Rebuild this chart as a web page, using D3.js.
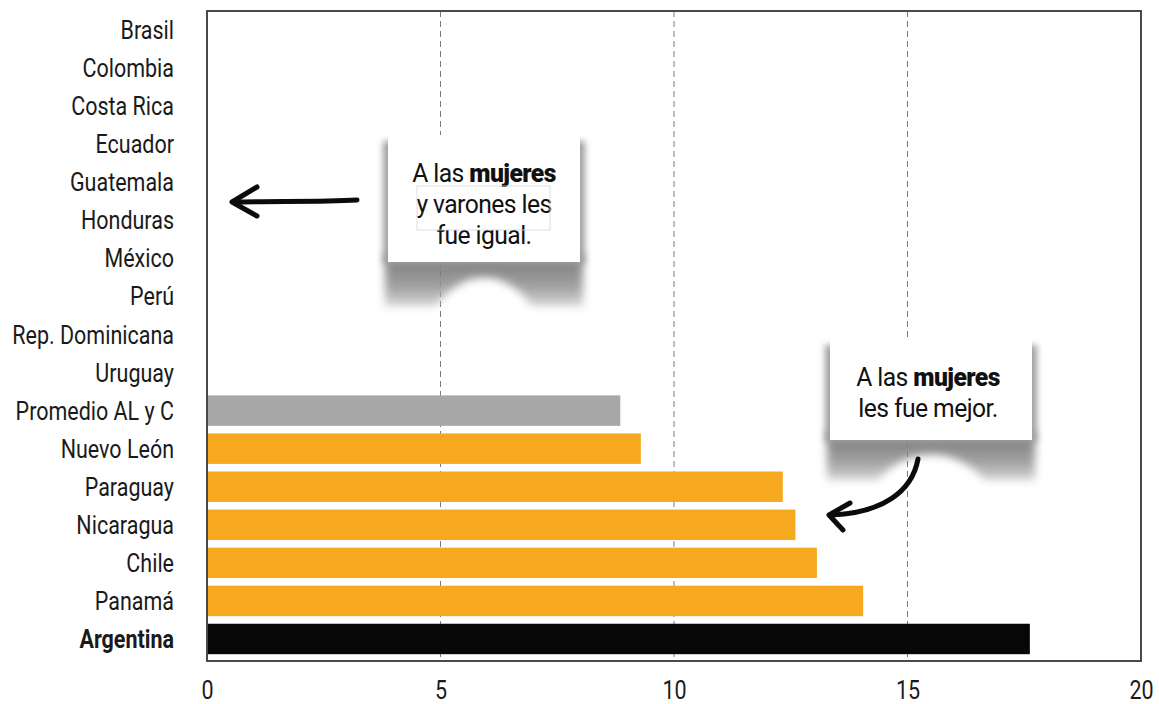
<!DOCTYPE html>
<html>
<head>
<meta charset="utf-8">
<script src="https://cdn.jsdelivr.net/npm/d3@7"></script>
<style>
  html, body { margin: 0; padding: 0; background: #fff; }
  svg { display: block; }
  text { font-family: Roboto, "Liberation Sans", "DejaVu Sans", sans-serif; }
</style>
</head>
<body>
<svg id="chart" width="1159" height="704"></svg>
<script>
// ---- data ----
const categories = ["Brasil", "Colombia", "Costa Rica", "Ecuador", "Guatemala", "Honduras", "México", "Perú",
  "Rep. Dominicana", "Uruguay", "Promedio AL y C", "Nuevo León", "Paraguay", "Nicaragua", "Chile", "Panamá", "Argentina"];
const values = [0, 0, 0, 0, 0, 0, 0, 0, 0, 0, 8.85, 9.29, 12.33, 12.6, 13.06, 14.05, 17.62];
const xTicks = [0, 5, 10, 15, 20];
const gridTicks = [5, 10, 15];
const averageLabel = "Promedio AL y C";
const highlightLabel = "Argentina";
const note1Lines = [["A las ", "mujeres"], ["y varones les"], ["fue igual."]];
const note2Lines = [["A las ", "mujeres"], ["les fue mejor."]];

// ---- layout ----
const svg = d3.select("#chart");
const plot = { left: 207, right: 1141, top: 11, bottom: 661 };
const SX = 0.86; // horizontal squeeze to mimic a condensed face

const x = d3.scaleLinear().domain([0, 20]).range([plot.left, plot.right]);
const y = d3.scaleBand().domain(categories).range([plot.top, plot.bottom - 3]).paddingInner(0.2).paddingOuter(0.1);

const colorFor = c => c === highlightLabel ? "#070707" : (c === averageLabel ? "#a7a7a7" : "#f6a81e");

const defs = svg.append("defs");
defs.append("filter").attr("id", "blur").attr("x", "-20%").attr("y", "-50%").attr("width", "140%").attr("height", "200%")
  .append("feGaussianBlur").attr("stdDeviation", 4);
defs.append("filter").attr("id", "blurSm").attr("x", "-20%").attr("y", "-20%").attr("width", "140%").attr("height", "140%")
  .append("feGaussianBlur").attr("stdDeviation", 3);
const grad = defs.append("linearGradient").attr("id", "shade").attr("x1", 0).attr("y1", 0).attr("x2", 0).attr("y2", 1);
grad.append("stop").attr("offset", "0%").attr("stop-color", "#666");
grad.append("stop").attr("offset", "60%").attr("stop-color", "#929292");
grad.append("stop").attr("offset", "100%").attr("stop-color", "#cfcfcf");

// gridlines
svg.append("g").selectAll("line").data(gridTicks).join("line")
  .attr("x1", d => x(d)).attr("x2", d => x(d))
  .attr("y1", plot.top).attr("y2", plot.bottom)
  .attr("stroke", "#7a7a7a").attr("stroke-width", 1).attr("stroke-dasharray", "6,4");

// bars
svg.append("g").selectAll("rect").data(categories.map((c, i) => ({ c, v: values[i] })).filter(d => d.v > 0)).join("rect")
  .attr("x", x(0))
  .attr("y", d => y(d.c))
  .attr("width", d => x(d.v) - x(0))
  .attr("height", y.bandwidth())
  .attr("fill", d => colorFor(d.c));

// frame
svg.append("rect")
  .attr("x", plot.left).attr("y", plot.top)
  .attr("width", plot.right - plot.left).attr("height", plot.bottom - plot.top)
  .attr("fill", "none").attr("stroke", "#4a4a4a").attr("stroke-width", 2);

// y labels
svg.append("g").selectAll("g").data(categories).join("g")
  .attr("transform", d => `translate(174,${y(d) + y.bandwidth() / 2 + 9}) scale(${SX},1)`)
  .append("text")
  .attr("text-anchor", "end")
  .attr("font-size", 25)
  .attr("font-weight", d => d === highlightLabel ? 700 : 400)
  .attr("fill", "#1a1a1a")
  .text(d => d);

// x axis tick labels
const xAxis = d3.axisBottom(x).tickValues(xTicks).tickSize(0).tickPadding(0).tickFormat(d3.format("d"));
const gx = svg.append("g").attr("transform", `translate(0,${plot.bottom})`).call(xAxis);
gx.select(".domain").remove();
gx.selectAll("text")
  .attr("y", 38).attr("dy", 0).attr("x", 0)
  .attr("transform", `scale(${SX},1)`)
  .attr("font-size", 25).attr("fill", "#1a1a1a")
  .style("font-family", 'Roboto, "Liberation Sans", sans-serif');

// ---- annotations ----
function callout(box, lines, lineGap, firstBase, cx) {
  const g = svg.append("g");
  const { x0, x1, y0, yb, depth } = box;
  // curled-banner shadow below
  g.append("path")
    .attr("d", `M${x0 - 3},${yb - 8} L${x1 + 3},${yb - 8} L${x1 + 3},${yb + depth} L${x1 - 48},${yb + depth}
      C${x1 - 75},${yb + 6} ${x0 + 75},${yb + 6} ${x0 + 48},${yb + depth} L${x0 - 3},${yb + depth} Z`)
    .attr("fill", "url(#shade)").attr("filter", "url(#blur)").attr("opacity", 0.88);
  // side shadow
  g.append("rect").attr("x", x0 - 5).attr("y", y0 + 6).attr("width", x1 - x0 + 10).attr("height", yb - y0 - 4)
    .attr("fill", "#a0a0a0").attr("filter", "url(#blurSm)");
  g.append("rect").attr("x", x0).attr("y", y0).attr("width", x1 - x0).attr("height", yb - y0).attr("fill", "#fff");
  lines.forEach((parts, i) => {
    const t = g.append("g").attr("transform", `translate(${cx},${firstBase + i * lineGap}) scale(0.95,1)`)
      .append("text").attr("text-anchor", "middle").attr("font-size", 26).attr("fill", "#111").attr("letter-spacing", -0.6);
    parts.forEach((p, j) => t.append("tspan").attr("font-weight", j === 1 ? 900 : 400).text(p));
  });
  return g;
}

const c1 = callout({ x0: 388, x1: 580, y0: 135, yb: 262, depth: 44 }, note1Lines, 31, 182, 484);
c1.append("rect").attr("x", 417).attr("y", 186).attr("width", 133).attr("height", 44)
  .attr("fill", "none").attr("stroke", "#d4d4d4").attr("stroke-width", 0.8);
callout({ x0: 830, x1: 1032, y0: 339, yb: 440, depth: 40 }, note2Lines, 31, 386, 928);

// arrows
const arrowStyle = s => s.attr("fill", "none").attr("stroke", "#0b0b0b").attr("stroke-width", 5)
  .attr("stroke-linecap", "round").attr("stroke-linejoin", "round");
svg.append("path").attr("d", "M357,200 C320,202 280,201 233,202").call(arrowStyle);
svg.append("path").attr("d", "M257,187 L232,202 L257,216").call(arrowStyle);
svg.append("path").attr("d", "M918,459 C912,492 882,513 831,515").call(arrowStyle);
svg.append("path").attr("d", "M850,503 L829,515 L843,530").call(arrowStyle);
</script>
</body>
</html>
